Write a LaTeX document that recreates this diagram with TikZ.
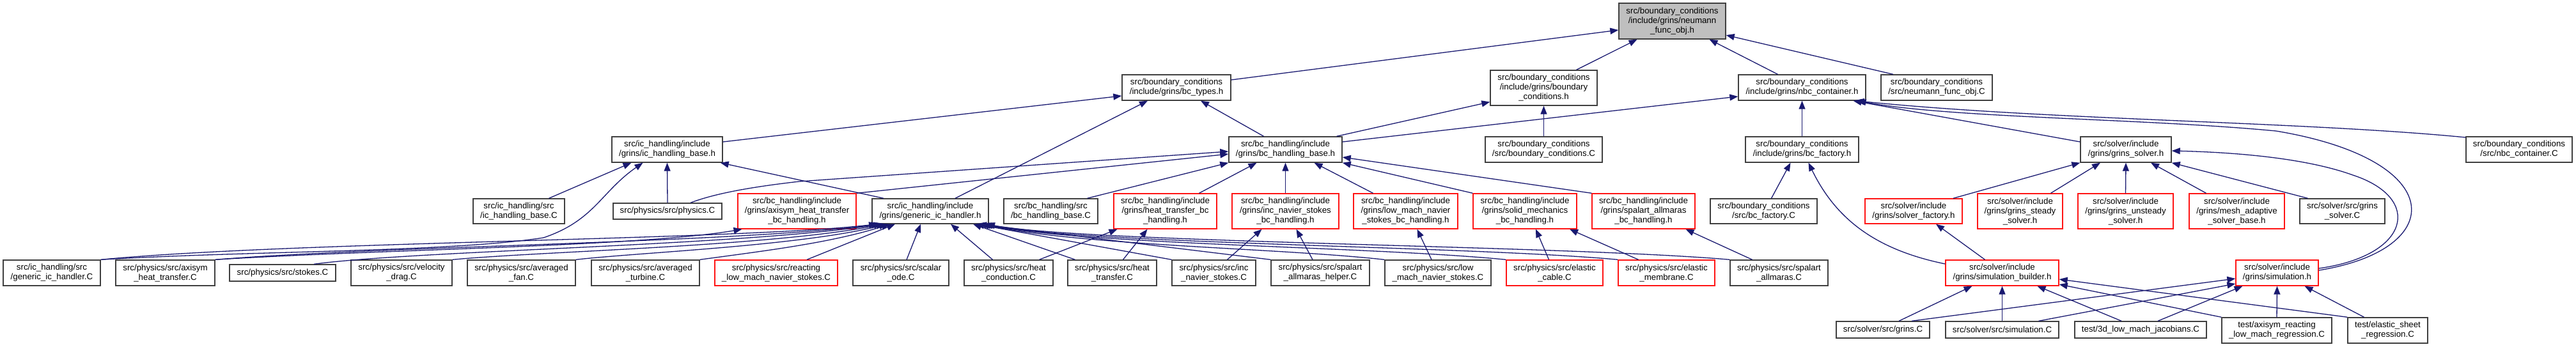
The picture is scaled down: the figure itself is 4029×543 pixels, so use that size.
\documentclass[tikz,border=0pt]{standalone}
\usepackage{fontspec}
\setmainfont{Liberation Sans}
\usetikzlibrary{arrows.meta}
\definecolor{edgeblue}{RGB}{25,25,112}
\definecolor{boxgray}{RGB}{64,64,64}
\definecolor{doxred}{RGB}{255,20,20}
\definecolor{topgray}{RGB}{191,191,191}
\newcommand\mkbox[6]{\node[#6, minimum width={(#4-#2)*1pt}, minimum height={(#5-#3)*1pt}] (#1) at ({(#2+#4)/2},{(#3+#5)/2})}
\begin{document}
\begin{tikzpicture}[x=1pt,y=-1pt,
  box/.style={draw=boxgray, line width=1.4pt, fill=white, inner sep=0pt, align=center, font=\fontsize{13.3pt}{15pt}\selectfont},
  rbox/.style={box, draw=doxred},
  gbox/.style={box, fill=topgray},
  edge/.style={draw=edgeblue, line width=1.3pt, -{Triangle[length=13pt,width=10pt]}}]
\useasboundingbox (0,0) rectangle (4029,543);
% row 1
\mkbox{nfoh}{2532}{5}{2699}{61}{gbox}{src/boundary\_conditions\\/include/grins/neumann\\\_func\_obj.h};
% row 2
\mkbox{bct}{1755}{117}{1925}{157}{box}{src/boundary\_conditions\\/include/grins/bc\_types.h};
\mkbox{bch}{2331}{110}{2498}{165}{box}{src/boundary\_conditions\\/include/grins/boundary\\\_conditions.h};
\mkbox{nbch}{2719}{117}{2918}{157}{box}{src/boundary\_conditions\\/include/grins/nbc\_container.h};
\mkbox{nfoc}{2942}{117}{3116}{157}{box}{src/boundary\_conditions\\/src/neumann\_func\_obj.C};
% row 3
\mkbox{ichb}{957}{214}{1130}{254}{box}{src/ic\_handling/include\\/grins/ic\_handling\_base.h};
\mkbox{bchb}{1922}{214}{2099}{254}{box}{src/bc\_handling/include\\/grins/bc\_handling\_base.h};
\mkbox{bcc}{2323}{214}{2506}{254}{box}{src/boundary\_conditions\\/src/boundary\_conditions.C};
\mkbox{bcfh}{2730}{214}{2907}{254}{box}{src/boundary\_conditions\\/include/grins/bc\_factory.h};
\mkbox{gsh}{3254}{214}{3396}{254}{box}{src/solver/include\\/grins/grins\_solver.h};
\mkbox{nbcc}{3857}{214}{4023}{254}{box}{src/boundary\_conditions\\/src/nbc\_container.C};
% row 4
\mkbox{ichbc}{740}{311}{883}{350}{box}{src/ic\_handling/src\\/ic\_handling\_base.C};
\mkbox{phys}{959}{318}{1129}{343}{box}{src/physics/src/physics.C};
\mkbox{ahtbc}{1154}{303}{1339}{358}{rbox}{src/bc\_handling/include\\/grins/axisym\_heat\_transfer\\\_bc\_handling.h};
\mkbox{gich}{1364}{311}{1546}{350}{box}{src/ic\_handling/include\\/grins/generic\_ic\_handler.h};
\mkbox{bchbc}{1570}{311}{1717}{350}{box}{src/bc\_handling/src\\/bc\_handling\_base.C};
\mkbox{htbc}{1742}{303}{1903}{358}{rbox}{src/bc\_handling/include\\/grins/heat\_transfer\_bc\\\_handling.h};
\mkbox{insbc}{1927}{303}{2094}{358}{rbox}{src/bc\_handling/include\\/grins/inc\_navier\_stokes\\\_bc\_handling.h};
\mkbox{lmnsbc}{2117}{303}{2280}{358}{rbox}{src/bc\_handling/include\\/grins/low\_mach\_navier\\\_stokes\_bc\_handling.h};
\mkbox{smbc}{2304}{303}{2466}{358}{rbox}{src/bc\_handling/include\\/grins/solid\_mechanics\\\_bc\_handling.h};
\mkbox{sabc}{2490}{303}{2651}{358}{rbox}{src/bc\_handling/include\\/grins/spalart\_allmaras\\\_bc\_handling.h};
\mkbox{bcfc}{2675}{311}{2842}{350}{box}{src/boundary\_conditions\\/src/bc\_factory.C};
\mkbox{sfh}{2917}{311}{3069}{350}{rbox}{src/solver/include\\/grins/solver\_factory.h};
\mkbox{gssh}{3093}{303}{3226}{358}{rbox}{src/solver/include\\/grins/grins\_steady\\\_solver.h};
\mkbox{gush}{3250}{303}{3399}{358}{rbox}{src/solver/include\\/grins/grins\_unsteady\\\_solver.h};
\mkbox{masb}{3424}{303}{3573}{358}{rbox}{src/solver/include\\/grins/mesh\_adaptive\\\_solver\_base.h};
\mkbox{gsc}{3597}{311}{3730}{350}{box}{src/solver/src/grins\\\_solver.C};
% row 5
\mkbox{gicc}{5}{407}{157}{447}{box}{src/ic\_handling/src\\/generic\_ic\_handler.C};
\mkbox{aht}{181}{407}{336}{447}{box}{src/physics/src/axisym\\\_heat\_transfer.C};
\mkbox{stk}{359}{414}{525}{440}{box}{src/physics/src/stokes.C};
\mkbox{vd}{549}{407}{707}{447}{box}{src/physics/src/velocity\\\_drag.C};
\mkbox{af}{731}{407}{900}{447}{box}{src/physics/src/averaged\\\_fan.C};
\mkbox{at}{925}{407}{1094}{447}{box}{src/physics/src/averaged\\\_turbine.C};
\mkbox{rlmns}{1118}{407}{1310}{447}{rbox}{src/physics/src/reacting\\\_low\_mach\_navier\_stokes.C};
\mkbox{so}{1334}{407}{1484}{447}{box}{src/physics/src/scalar\\\_ode.C};
\mkbox{hc}{1508}{407}{1647}{447}{box}{src/physics/src/heat\\\_conduction.C};
\mkbox{ht}{1670}{407}{1809}{447}{box}{src/physics/src/heat\\\_transfer.C};
\mkbox{ins}{1833}{407}{1964}{447}{box}{src/physics/src/inc\\\_navier\_stokes.C};
\mkbox{sah}{1988}{407}{2142}{447}{box}{src/physics/src/spalart\\\_allmaras\_helper.C};
\mkbox{lmns}{2166}{407}{2332}{447}{box}{src/physics/src/low\\\_mach\_navier\_stokes.C};
\mkbox{ec}{2356}{407}{2507}{447}{rbox}{src/physics/src/elastic\\\_cable.C};
\mkbox{em}{2531}{407}{2682}{447}{rbox}{src/physics/src/elastic\\\_membrane.C};
\mkbox{sa}{2706}{407}{2859}{447}{box}{src/physics/src/spalart\\\_allmaras.C};
\mkbox{sbh}{3043}{407}{3220}{447}{rbox}{src/solver/include\\/grins/simulation\_builder.h};
\mkbox{simh}{3497}{407}{3626}{447}{rbox}{src/solver/include\\/grins/simulation.h};
% row 6
\mkbox{grc}{2872}{503}{3018}{529}{box}{src/solver/src/grins.C};
\mkbox{simc}{3043}{503}{3220}{529}{box}{src/solver/src/simulation.C};
\mkbox{jac}{3245}{503}{3451}{529}{box}{test/3d\_low\_mach\_jacobians.C};
\mkbox{axr}{3475}{497}{3647}{537}{box}{test/axisym\_reacting\\\_low\_mach\_regression.C};
\mkbox{esr}{3672}{497}{3797}{537}{box}{test/elastic\_sheet\\\_regression.C};
% edges into neumann_func_obj.h
\draw[edge] ([yshift=12pt]bct.east) -- ([yshift=-14pt]nfoh.west);
\draw[edge] ([xshift=51pt]bch.north) -- ([xshift=-55pt]nfoh.south);
\draw[edge] ([xshift=-38pt]nbch.north) -- ([xshift=58pt]nfoh.south);
\draw[edge] ([xshift=-68pt]nfoc.north) -- ([yshift=-22pt]nfoh.east);
% bc_types.h
\draw[edge] ([yshift=12pt]ichb.east) -- ([yshift=-13pt]bct.west);
\draw[edge] ([xshift=39pt]gich.north) -- ([xshift=-45pt]bct.south);
\draw[edge] ([xshift=-34pt]bchb.north) -- ([xshift=38pt]bct.south);
% boundary_conditions.h
\draw[edge] ([xshift=80pt]bchb.north) -- ([yshift=-22pt]bch.west);
\draw[edge] (bcc.north) -- (bch.south);
% nbc_container.h
\draw[edge] ([yshift=12pt]bchb.east) -- ([yshift=-14pt]nbch.west);
\draw[edge] (bcfh.north) -- (nbch.south);
\draw[edge] ([yshift=12pt]gsh.west) -- ([xshift=80pt]nbch.south);
\draw[edge] ([yshift=19pt]nbcc.west) .. controls (3600,190) and (3200,188) .. ([xshift=84pt]nbch.south);
\draw[edge] ([yshift=4pt]simh.east) .. controls (3830,390) and (3830,250) .. (3560,205) .. controls (3350,185) and (3050,185) .. ([xshift=87pt]nbch.south);
\draw[edge] ([yshift=7pt]simh.east) .. controls (3770,400) and (3790,310) .. (3680,274) .. controls (3600,245) and (3480,238) .. ([yshift=-2pt]gsh.east);
% ic_handling_base.h
\draw[edge] ([xshift=47pt]ichbc.north) -- ([xshift=-56pt]ichb.south);
\draw[edge] (gicc.north east) .. controls (400,392) and (700,395) .. (850,372) .. controls (930,345) and (940,300) .. ([xshift=-38pt]ichb.south);
\draw[edge] (phys.north) -- (ichb.south);
\draw[edge] ([xshift=-73pt]gich.north) -- ([xshift=-4pt]ichb.south east);
% bc_handling_base.h
\draw[edge] ([xshift=36pt]phys.north) .. controls (1120,302) and (1180,292) .. (1250,284) -- ([yshift=-3pt]bchb.west);
\draw[edge] (ahtbc.north east) -- ([yshift=-7pt]bchb.west);
\draw[edge] ([xshift=57pt]bchbc.north) -- (bchb.south west);
\draw[edge] ([xshift=53pt]htbc.north) -- ([xshift=-45pt]bchb.south);
\draw[edge] (insbc.north) -- (bchb.south);
\draw[edge] ([xshift=-51pt]lmnsbc.north) -- ([xshift=45pt]bchb.south);
\draw[edge] (smbc.north west) -- (bchb.south east);
\draw[edge] (sabc.north west) -- ([yshift=-12pt]bchb.east);
% bc_factory.h
\draw[edge] ([xshift=12pt]bcfc.north) -- ([xshift=-18pt]bcfh.south);
\draw[edge] ([yshift=14pt]sbh.west) .. controls (2930,390) and (2870,340) .. ([xshift=10pt]bcfh.south);
% grins_solver.h
\draw[edge] ([xshift=62pt]sfh.north) -- (gsh.south west);
\draw[edge] ([xshift=48pt]gssh.north) -- ([xshift=-40pt]gsh.south);
\draw[edge] (gush.north) -- (gsh.south);
\draw[edge] ([xshift=-48pt]masb.north) -- ([xshift=39pt]gsh.south);
\draw[edge] ([xshift=-54pt]gsc.north) -- (gsh.south east);
% solver_factory.h
\draw[edge] ([xshift=-27pt]sbh.north) -- ([xshift=35pt]sfh.south);
% simulation_builder.h
\draw[edge] ([xshift=25pt]grc.north) -- ([xshift=-47pt]sbh.south);
\draw[edge] (simc.north) -- (sbh.south);
\draw[edge] ([xshift=-30pt]jac.north) -- ([xshift=55pt]sbh.south);
\draw[edge] (axr.north west) -- ([yshift=-18pt]sbh.east);
\draw[edge] (esr.north west) -- ([yshift=-10pt]sbh.east);
% simulation.h
\draw[edge] ([xshift=45pt]grc.north) -- ([yshift=-9pt]simh.west);
\draw[edge] ([xshift=57pt]simc.north) -- ([yshift=-17pt]simh.west);
\draw[edge] ([xshift=27pt]jac.north) -- ([xshift=-54pt]simh.south);
\draw[edge] (axr.north) -- (simh.south);
\draw[edge] ([xshift=-37pt]esr.north) -- ([xshift=43pt]simh.south);
% physics sources
\draw[edge] (gicc.north east) .. controls (450,378) and (1150,376) .. ([xshift=-83pt]gich.south);
\draw[edge] (aht.north east) .. controls (600,385) and (1150,380) .. ([xshift=-79pt]gich.south);
\draw[edge] (aht.north east) .. controls (600,390) and (1000,386) .. ([xshift=-86pt]ahtbc.south);
\draw[edge] ([xshift=49pt]stk.north) .. controls (650,392) and (1150,385) .. ([xshift=-75pt]gich.south);
\draw[edge] (vd.north east) .. controls (850,393) and (1200,386) .. ([xshift=-71pt]gich.south);
\draw[edge] (af.north east) .. controls (1000,395) and (1250,385) .. ([xshift=-67pt]gich.south);
\draw[edge] (at.north east) .. controls (1200,392) and (1300,380) .. ([xshift=-63pt]gich.south);
\draw[edge] ([xshift=48pt]rlmns.north) -- ([xshift=-55pt]gich.south);
\draw[edge] ([xshift=9pt]so.north) -- ([xshift=-15pt]gich.south);
\draw[edge] ([xshift=-25pt]hc.north) -- ([xshift=32pt]gich.south);
\draw[edge] ([xshift=48pt]hc.north) -- ([xshift=-75pt]htbc.south);
\draw[edge] ([xshift=-58pt]ht.north) -- ([xshift=67pt]gich.south);
\draw[edge] ([xshift=17pt]ht.north) -- ([xshift=-28pt]htbc.south);
\draw[edge] (ins.north west) -- ([xshift=71pt]gich.south);
\draw[edge] ([xshift=21pt]ins.north) -- ([xshift=-37pt]insbc.south);
\draw[edge] (sah.north west) -- ([xshift=75pt]gich.south);
\draw[edge] ([xshift=-12pt]sah.north) -- ([xshift=17pt]insbc.south);
\draw[edge] (lmns.north west) .. controls (2000,388) and (1700,385) .. ([xshift=79pt]gich.south);
\draw[edge] ([xshift=-10pt]lmns.north) -- ([xshift=18pt]lmnsbc.south);
\draw[edge] (ec.north west) .. controls (2150,386) and (1700,383) .. ([xshift=82pt]gich.south);
\draw[edge] ([xshift=-9pt]ec.north) -- ([xshift=17pt]smbc.south);
\draw[edge] (em.north west) .. controls (2300,385) and (1700,382) .. ([xshift=85pt]gich.south);
\draw[edge] ([xshift=-44pt]em.north) -- ([xshift=70pt]smbc.south);
\draw[edge] (sa.north west) .. controls (2450,384) and (1700,380) .. ([xshift=88pt]gich.south);
\draw[edge] ([xshift=-42pt]sa.north) -- ([xshift=66pt]sabc.south);
\end{tikzpicture}
\end{document}
